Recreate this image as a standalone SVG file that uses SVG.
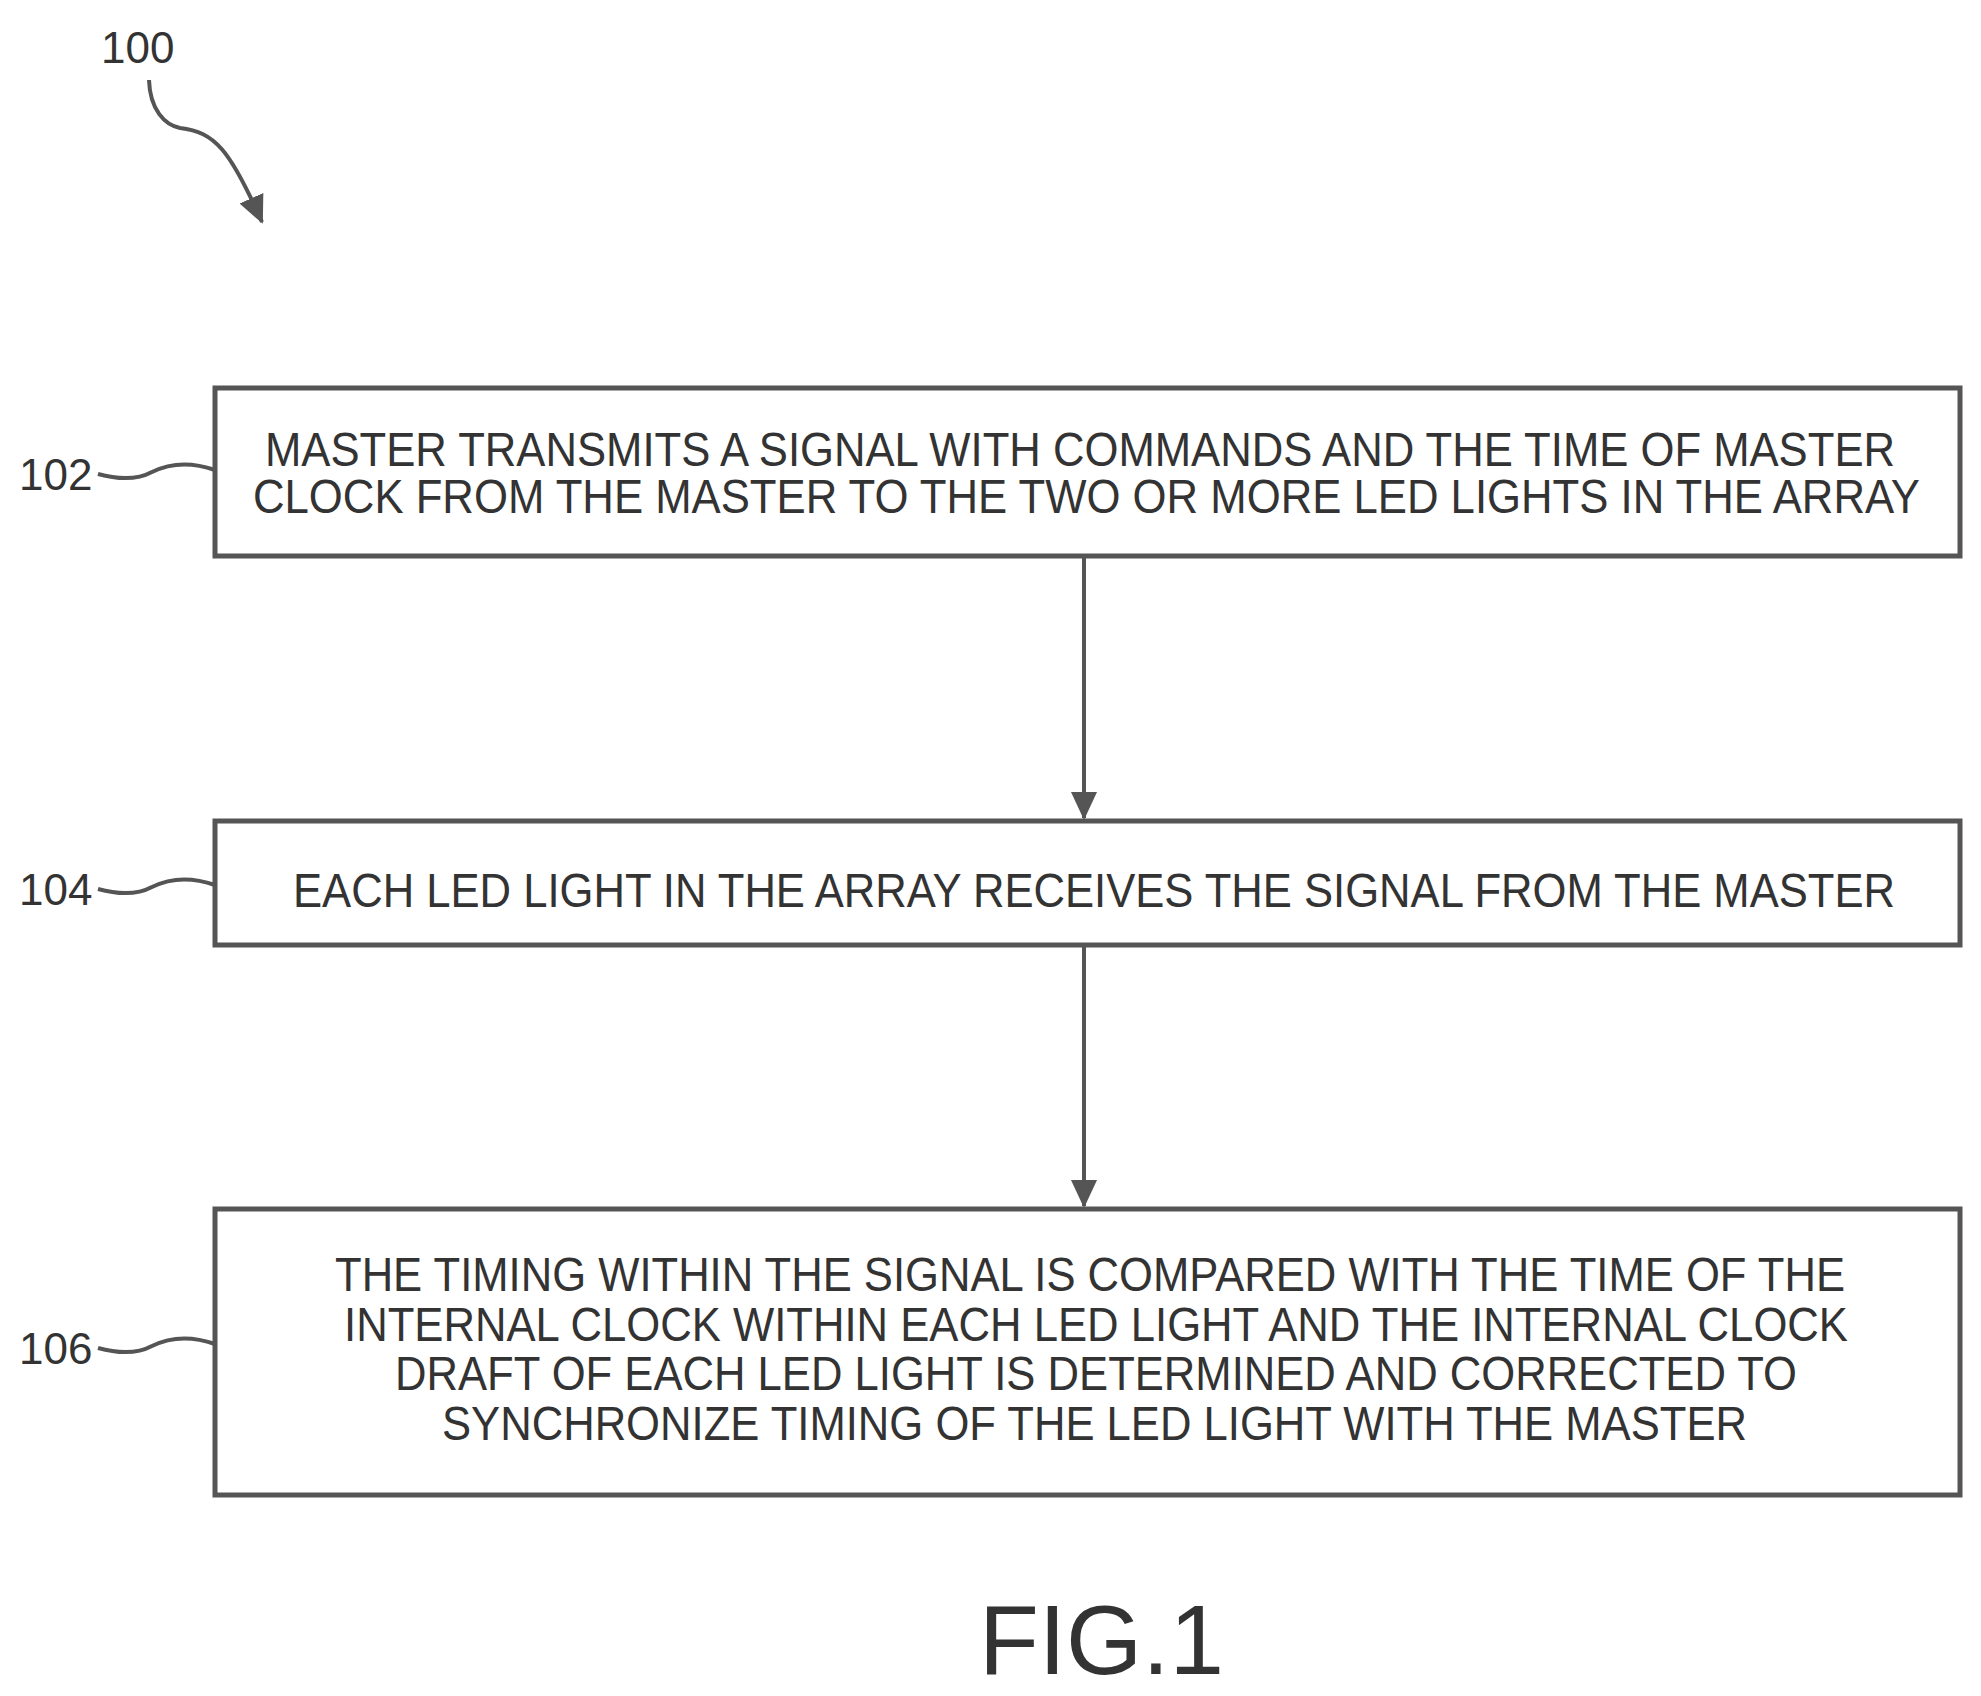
<svg xmlns="http://www.w3.org/2000/svg" width="1981" height="1696" viewBox="0 0 1981 1696">
<defs>
<style>
.box{fill:#fff;stroke:#555;stroke-width:5}
.t{font-family:"Liberation Sans",Arial,sans-serif;font-size:49px;fill:#333}
.lbl{font-family:"Liberation Sans",Arial,sans-serif;font-size:44px;fill:#333}
.ln{fill:none;stroke:#555;stroke-width:4}
</style>
<marker id="ah2" markerWidth="30" markerHeight="30" refX="26" refY="15" orient="auto" markerUnits="userSpaceOnUse" viewBox="0 0 30 30"><path d="M0,2 L28,15 L0,28 z" fill="#555"/></marker>
</defs>
<rect width="1981" height="1696" fill="#fff"/>
<g id="ref100">
<text class="lbl" x="101" y="63">100</text>
<path class="ln" d="M149,80 C150,110 165,125 180,128 C215,132 230,150 262,222" marker-end="url(#ah2)"/>
</g>
<g id="n102">
<rect class="box" x="215" y="388" width="1745" height="168"/>
<text class="t" x="265" y="466" textLength="1630" lengthAdjust="spacingAndGlyphs">MASTER TRANSMITS A SIGNAL WITH COMMANDS AND THE TIME OF MASTER</text>
<text class="t" x="253" y="513" textLength="1667" lengthAdjust="spacingAndGlyphs">CLOCK FROM THE MASTER TO THE TWO OR MORE LED LIGHTS IN THE ARRAY</text>
<text class="lbl" x="19" y="490">102</text>
<path class="ln" d="M98,474 C120,480 137,480 152,472 C172,462 192,462 215,470"/>
</g>
<g id="n104">
<rect class="box" x="215" y="821" width="1745" height="124"/>
<text class="t" x="293" y="907" textLength="1602" lengthAdjust="spacingAndGlyphs">EACH LED LIGHT IN THE ARRAY RECEIVES THE SIGNAL FROM THE MASTER</text>
<text class="lbl" x="19" y="905">104</text>
<path class="ln" d="M98,889 C120,895 137,895 152,887 C172,877 192,877 215,885"/>
</g>
<g id="n106">
<rect class="box" x="215" y="1209" width="1745" height="286"/>
<text class="t" x="335" y="1291" textLength="1510" lengthAdjust="spacingAndGlyphs">THE TIMING WITHIN THE SIGNAL IS COMPARED WITH THE TIME OF THE</text>
<text class="t" x="344" y="1341" textLength="1504" lengthAdjust="spacingAndGlyphs">INTERNAL CLOCK WITHIN EACH LED LIGHT AND THE INTERNAL CLOCK</text>
<text class="t" x="395" y="1390" textLength="1402" lengthAdjust="spacingAndGlyphs">DRAFT OF EACH LED LIGHT IS DETERMINED AND CORRECTED TO</text>
<text class="t" x="442" y="1440" textLength="1305" lengthAdjust="spacingAndGlyphs">SYNCHRONIZE TIMING OF THE LED LIGHT WITH THE MASTER</text>
<text class="lbl" x="19" y="1364">106</text>
<path class="ln" d="M98,1348 C120,1354 137,1354 152,1346 C172,1336 192,1336 215,1344"/>
</g>
<g id="connectors">
<line class="ln" x1="1084" y1="556" x2="1084" y2="818" marker-end="url(#ah2)"/>
<line class="ln" x1="1084" y1="945" x2="1084" y2="1206" marker-end="url(#ah2)"/>
</g>
<text x="979" y="1674" font-family="Liberation Sans,Arial,sans-serif" font-size="98" fill="#333">FIG.1</text>
</svg>
